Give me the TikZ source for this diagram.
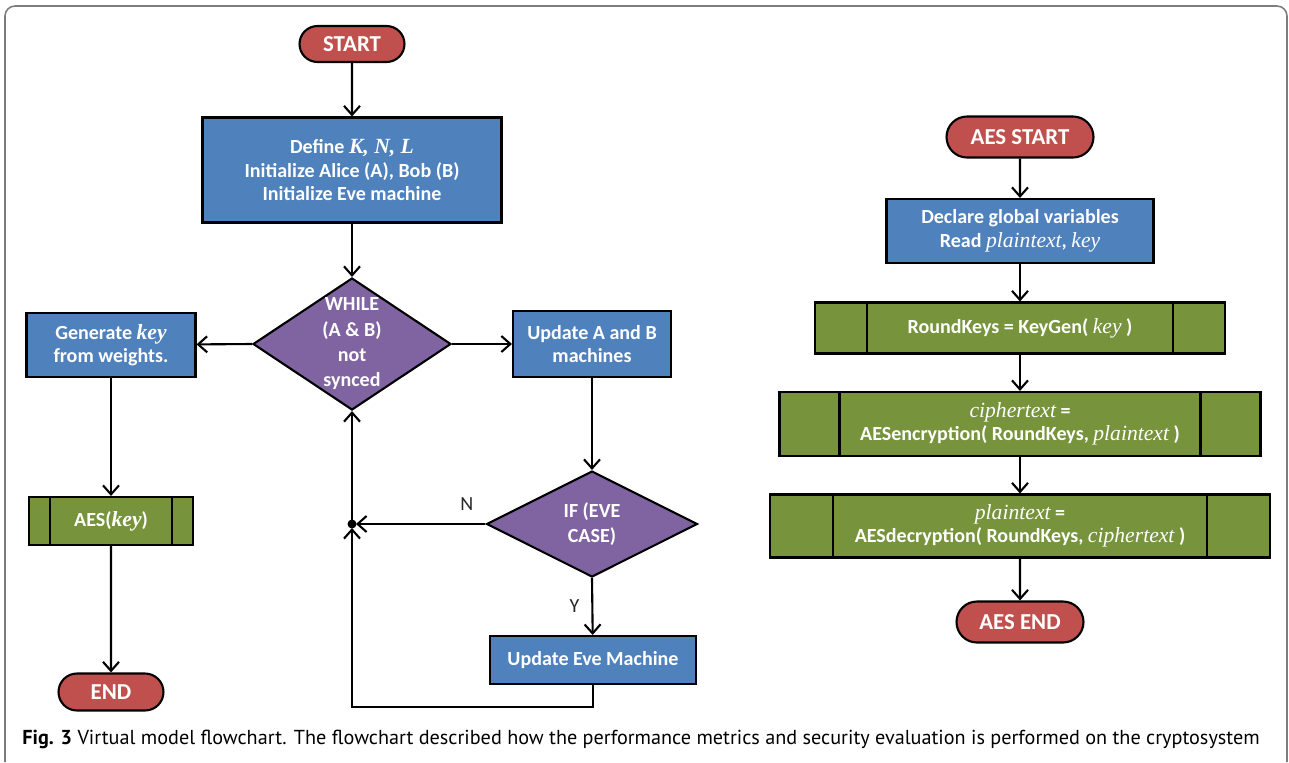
\documentclass[tikz,border=0pt]{standalone}
\usepackage{fontspec}
\setmainfont{Carlito}
\newfontfamily\varfont[Scale=1.08]{Liberation Serif}
\newfontfamily\legendefont{PT Sans}
\usetikzlibrary{positioning,arrows.meta,shapes.geometric,shapes.misc}
\definecolor{rougefond}{RGB}{192,80,77}
\definecolor{bleufond}{RGB}{79,129,189}
\definecolor{violetfond}{RGB}{128,100,162}
\definecolor{vertfond}{RGB}{119,147,60}
\definecolor{griscadre}{RGB}{125,125,125}
\newdimen\upx \upx=0.02cm
\newcommand{\vari}[1]{{\varfont\mdseries\itshape #1}}
\newcommand{\varb}[1]{{\varfont\bfseries\itshape #1}}

\begin{document}
\begin{tikzpicture}[x=0.02cm,y=-0.02cm,font=\fontsize{11.4}{13.4}\selectfont\bfseries,
  trait/.style={line width=1.2pt},
  fleche/.style={trait,-{Straight Barb[length=1.8mm,width=3.2mm,line width=1.2pt]}},
  boite/.style={draw,trait,fill=bleufond,text=white,align=center,inner sep=2pt},
  borne/.style={draw,trait,rounded rectangle,fill=rougefond,text=white,inner sep=2pt,font=\fontsize{13}{15}\selectfont\bfseries},
  losange/.style={draw,trait,diamond,fill=violetfond,inner sep=0pt},
  texteblanc/.style={text=white,align=center,inner sep=0pt},
  sousprog/.style={draw,trait,fill=vertfond,text=white,align=center,inner sep=2pt,
    path picture={\draw[trait] ([xshift=#1]path picture bounding box.north west) -- ([xshift=#1]path picture bounding box.south west)
      ([xshift=-#1]path picture bounding box.north east) -- ([xshift=-#1]path picture bounding box.south east);}},
  etiq/.style={font=\fontsize{11.4}{13.4}\selectfont,text=black!85,inner sep=0pt}]
\useasboundingbox (0,0) rectangle (1289,762);
\draw[griscadre,line width=0.9pt,rounded corners=10\upx] (5,762) -- (5,6) -- (1287,6) -- (1287,762);
\node[borne,minimum width=112\upx,minimum height=36\upx] (start) at (352,44) {START};
\node[boite,minimum width=299\upx,minimum height=105\upx] (definir) at (352,170) {Define \varb{K, N, L}\\Initialize Alice (A), Bob (B)\\Initialize Eve machine};
\node[losange,minimum width=198\upx,minimum height=132\upx,label={[texteblanc]center:{WHILE\\[1pt](A \& B)\\[1pt]not\\[1pt]synced}}] (tantque) at (352,344) {};
\node[boite,minimum width=169\upx,minimum height=64\upx] (genere) at (111,345) {Generate \varb{key}\\from weights.};
\node[boite,minimum width=158\upx,minimum height=66\upx] (majab) at (592,344) {Update A and B\\machines};
\node[losange,minimum width=211\upx,minimum height=106\upx,label={[texteblanc]center:{IF (EVE\\[1pt]CASE)}}] (sieve) at (592,524) {};
\node[boite,minimum width=206\upx,minimum height=48\upx] (majeve) at (593,660) {Update Eve Machine};
\node[sousprog=21\upx,minimum width=164\upx,minimum height=48\upx] (aes) at (111,521) {AES(\varb{key})};
\node[borne,minimum width=112\upx,minimum height=37\upx] (fin) at (111,692) {END};
\coordinate (jonction) at (352,524);
\node[borne,minimum width=154\upx,minimum height=41\upx] (aesdebut) at (1020,137) {AES START};
\node[boite,minimum width=267\upx,minimum height=64\upx] (declarer) at (1020,231) {Declare global variables\\Read \vari{plaintext}, \vari{key}};
\node[sousprog=52\upx,minimum width=410\upx,minimum height=51\upx] (cles) at (1020,328) {RoundKeys = KeyGen( \vari{key} )};
\node[sousprog=60\upx,minimum width=481\upx,minimum height=64\upx] (chiffre) at (1020,424) {\vari{ciphertext} =\\AESencryption( RoundKeys, \vari{plaintext} )};
\node[sousprog=63\upx,minimum width=500\upx,minimum height=63\upx] (dechiffre) at (1020,526) {\vari{plaintext} =\\AESdecryption( RoundKeys, \vari{ciphertext} )};
\node[borne,minimum width=134\upx,minimum height=41\upx] (aesfin) at (1020,622) {AES END};
\draw[fleche] (start) -- (definir);
\draw[fleche] (definir) -- (tantque);
\draw[fleche] (tantque.west) -- (genere);
\draw[fleche] (tantque.east) -- (majab);
\draw[fleche] (majab) -- (sieve);
\draw[fleche,shorten >=4\upx] (sieve.west) -- node[etiq,pos=0.14,above=12\upx]{N} (jonction);
\draw[fleche] (sieve.south) -- node[etiq,left=12\upx]{Y} (majeve);
\draw[fleche,shorten >=4\upx] (majeve.south) -- ++(0,22) -| (jonction);
\draw[fleche] (jonction) -- (tantque.south);
\fill (jonction) circle (4.5\upx);
\draw[fleche] (genere) -- (aes);
\draw[fleche] (aes) -- (fin);
\draw[fleche] (aesdebut) -- (declarer);
\draw[fleche] (declarer) -- (cles);
\draw[fleche] (cles) -- (chiffre);
\draw[fleche] (chiffre) -- (dechiffre);
\draw[fleche] (dechiffre) -- (aesfin);
\node[anchor=base west,inner sep=0pt,font=\legendefont\fontsize{11.5}{13}\selectfont] (legende) at (22,744) {\textbf{Fig. 3} Virtual model flowchart. The flowchart described how the performance metrics and security evaluation is performed on the cryptosystem};
\end{tikzpicture}
\end{document}
